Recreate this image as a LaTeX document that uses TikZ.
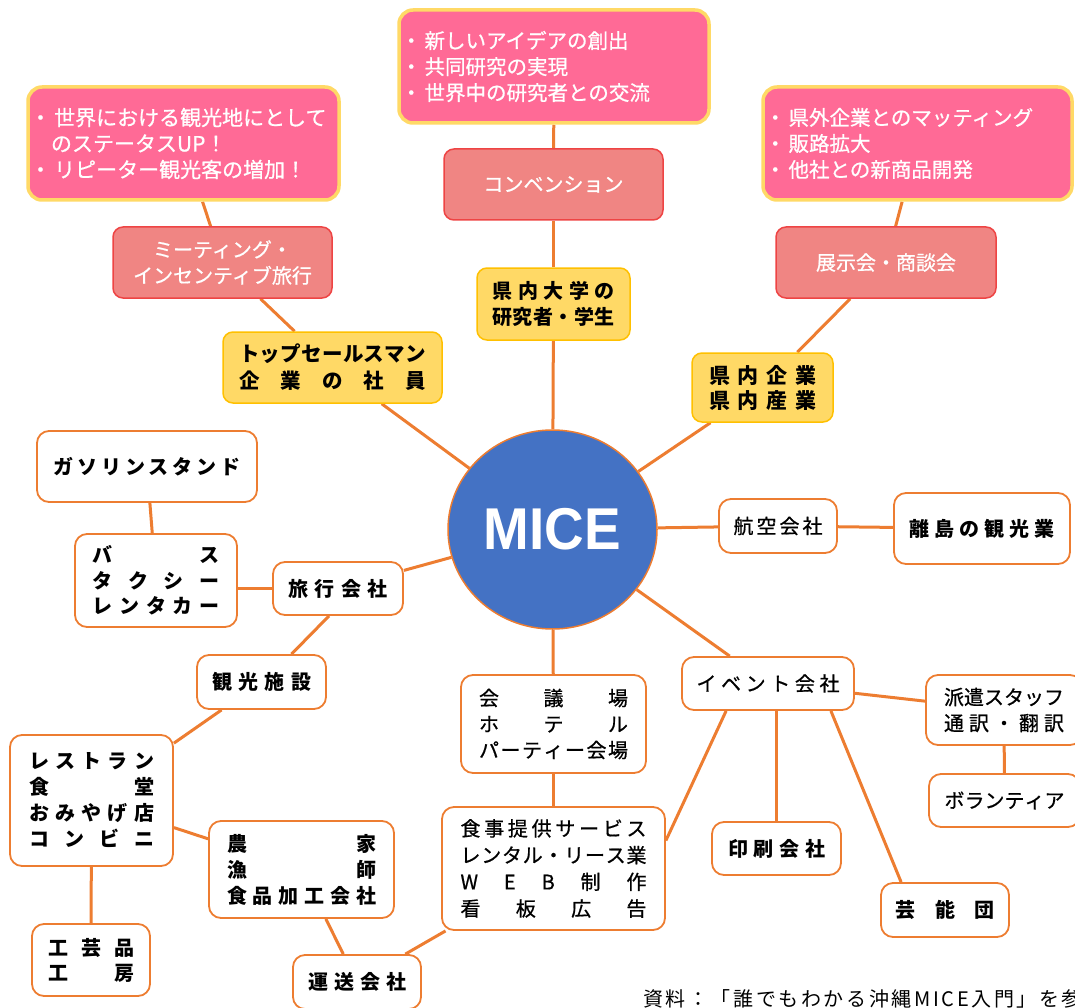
\documentclass[tikz,border=0pt]{standalone}
\usepackage{fontspec}
\usepackage{graphicx}
\setmainfont{Noto Sans CJK JP}
\newfontfamily\micefont{Liberation Sans}
\newfontfamily\medfont[FakeBold=0.7]{Noto Sans CJK JP}
\usetikzlibrary{calc,shapes.geometric,backgrounds}
\definecolor{pinkfill}{HTML}{FF6A96}
\definecolor{pinkedge}{HTML}{FFD966}
\definecolor{salmonfill}{HTML}{F08583}
\definecolor{salmonedge}{HTML}{EE4444}
\definecolor{yelfill}{HTML}{FFD966}
\definecolor{yeledge}{HTML}{FFC000}
\definecolor{orng}{HTML}{ED7D31}
\definecolor{miceblue}{HTML}{4472C4}
\makeatletter
\newcommand\jw[2]{\makebox[#1][s]{\@tfor\jwx:=#2\do{\jwx\hfil}\unskip}}
\makeatother
\newcommand\bul{\makebox[1.15em][l]{・}}
\tikzset{
  pinkbox/.style={draw=pinkedge, line width=3.5pt, fill=pinkfill, rounded corners=14pt,
    text=white, inner sep=0pt, align=left, font=\medfont\fontsize{20.5}{26}\selectfont},
  salmonbox/.style={draw=salmonedge, line width=1.5pt, fill=salmonfill, rounded corners=10pt,
    text=white, inner sep=0pt, align=center, font=\medfont\fontsize{20}{26}\selectfont},
  yelbox/.style={draw=yeledge, line width=1.5pt, fill=yelfill, rounded corners=10pt,
    inner sep=0pt, align=center, font=\fontsize{20}{26}\selectfont\bfseries},
  wbox/.style={draw=orng, line width=1.8pt, fill=white, rounded corners=12pt,
    inner sep=0pt, align=center, font=\medfont\fontsize{20}{26}\selectfont},
  wboxb/.style={wbox, font=\fontsize{20}{26}\selectfont\bfseries},
  link/.style={draw=orng, line width=3pt},
}
\begin{document}
\begin{tikzpicture}[x=1pt,y=-1pt]
\useasboundingbox (0,0) rectangle (1075,1008);
\clip (0,0) rectangle (1075,1008);

% top pink boxes
\node[pinkbox, minimum width=310, minimum height=113, text width=306] (pinkC) at (554,66.5)
  {\bul 新しいアイデアの創出\\\bul 共同研究の実現\\\bul 世界中の研究者との交流};
\node[pinkbox, minimum width=311, minimum height=113, text width=307,
  font=\medfont\fontsize{21}{26}\selectfont] (pinkL) at (183.5,143.5)
  {\bul 世界における観光地にとして\\\hspace*{1em}のステータスUP！\\\bul リピーター観光客の増加！};
\node[pinkbox, minimum width=309, minimum height=113, text width=305] (pinkR) at (917.5,143.5)
  {\bul 県外企業とのマッティング\\\bul 販路拡大\\\bul 他社との新商品開発};

% salmon boxes
\node[salmonbox, minimum width=219, minimum height=71] (conv) at (553.5,184.5) {コンベンション};
\node[salmonbox, minimum width=219, minimum height=71] (meet) at (222.5,262.5) {ミーティング・\\インセンティブ旅行};
\node[salmonbox, minimum width=220, minimum height=71] (tenji) at (886,262.5) {展示会・商談会};

% yellow boxes
\node[yelbox, minimum width=153, minimum height=72] (univ) at (553.5,304)
  {\jw{122pt}{県内大学の}\\\jw{122pt}{研究者・学生}};
\node[yelbox, minimum width=219, minimum height=71, font=\fontsize{20.5}{27}\selectfont\bfseries] (top) at (332.5,367.5)
  {\jw{187pt}{トップセールスマン}\\\jw{187pt}{企業の社員}};
\node[yelbox, minimum width=141, minimum height=69, font=\fontsize{21}{25}\selectfont\bfseries] (kennai) at (762.5,387.5)
  {\jw{107pt}{県内企業}\\\jw{107pt}{県内産業}};

% MICE
\node[ellipse, draw=orng, line width=1.5pt, fill=miceblue, minimum width=209, minimum height=199,
  inner sep=0pt, text=white] (mice) at (552.5,529.5)
  {\raisebox{-3pt}{\micefont\bfseries\fontsize{59}{59}\selectfont\scalebox{0.93}[1]{MICE}}};

% white boxes, left
\node[wboxb, minimum width=220, minimum height=71] (gas) at (147,466.5) {\jw{187pt}{ガソリンスタンド}};
\node[wboxb, minimum width=162, minimum height=93, font=\fontsize{20}{25.5}\selectfont\bfseries] (bus) at (156,580.5)
  {\jw{127pt}{バス}\\\jw{127pt}{タクシー}\\\jw{127pt}{レンタカー}};
\node[wboxb, minimum width=130, minimum height=53] (travel) at (338,588.5) {\jw{99pt}{旅行会社}};
\node[wboxb, minimum width=129, minimum height=54] (kanko) at (261.5,682) {\jw{99pt}{観光施設}};
\node[wboxb, minimum width=163, minimum height=131] (resto) at (91.5,800.5)
  {\jw{125pt}{レストラン}\\\jw{125pt}{食堂}\\\jw{125pt}{おみやげ店}\\\jw{125pt}{コンビニ}};
\node[wboxb, minimum width=185, minimum height=97] (farm) at (301.5,869.5)
  {\jw{149pt}{農家}\\\jw{149pt}{漁師}\\\jw{149pt}{食品加工会社}};
\node[wboxb, minimum width=118, minimum height=72, font=\fontsize{20}{25}\selectfont\bfseries] (craft) at (91,960)
  {\jw{86pt}{工芸品}\\\jw{86pt}{工房}};
\node[wboxb, minimum width=128, minimum height=54] (unso) at (357,982) {\jw{98pt}{運送会社}};

% white boxes, centre and right
\node[wbox, minimum width=185, minimum height=98] (kaigi) at (553.5,724)
  {\jw{149pt}{会議場}\\\jw{149pt}{ホテル}\\\jw{149pt}{パーティー会場}};
\node[wbox, minimum width=223, minimum height=123, font=\medfont\fontsize{20}{26.7}\selectfont] (food) at (553.5,868.5)
  {\jw{186pt}{食事提供サービス}\\\jw{186pt}{レンタル・リース業}\\\jw{186pt}{WEB制作}\\\jw{186pt}{看板広告}};
\node[wbox, minimum width=172, minimum height=53] (event) at (768,683.5) {\jw{143pt}{イベント会社}};
\node[wboxb, minimum width=129, minimum height=53] (print) at (776.5,848.5) {\jw{97pt}{印刷会社}};
\node[wboxb, minimum width=128, minimum height=54] (geino) at (945,910) {\jw{99pt}{芸能団}};
\node[wbox, minimum width=156, minimum height=70] (haken) at (1004,710)
  {\jw{120pt}{派遣スタッフ}\\\jw{120pt}{通訳・翻訳}};
\node[wbox, minimum width=151, minimum height=53] (volun) at (1004.5,800.5) {\jw{120pt}{ボランティア}};
\node[wbox, minimum width=118, minimum height=54] (air) at (778,526) {\jw{89pt}{航空会社}};
\node[wboxb, minimum width=176, minimum height=71] (ritou) at (982,528.5) {\jw{145pt}{離島の観光業}};

% caption
\node[anchor=base west, inner sep=0pt, font=\fontsize{20}{24}\selectfont\addfontfeature{LetterSpace=13}] (cap) at (643,1006)
  {資料：「誰でもわかる沖縄MICE入門」を参};

\begin{scope}[on background layer]
\draw[link] (mice) -- (univ);
\draw[link] (univ) -- (conv);
\draw[link] (conv) -- (pinkC);
\draw[link] (mice) -- (top);
\draw[link] (top) -- (meet);
\draw[link] (meet) -- (pinkL);
\draw[link] (mice) -- (kennai);
\draw[link] (kennai) -- (tenji);
\draw[link] (tenji) -- (pinkR);
\draw[link] (mice) -- (air);
\draw[link] (air) -- (ritou);
\draw[link] (mice) -- (travel);
\draw[link] (bus.east |- travel.west) -- (travel.west);
\draw[link] (bus) -- (gas);
\draw[link] ($(travel.south)+(-9,0)$) -- ($(kanko.north)+(30,0)$);
\draw[link] (kanko) -- (resto);
\draw[link] (resto) -- (farm);
\draw[link] (resto) -- (craft);
\draw[link] (farm) -- (unso);
\draw[link] (unso) -- (food);
\draw[link] (mice) -- (kaigi);
\draw[link] (kaigi) -- (food);
\draw[link] (mice) -- (event);
\draw[link] ($(event.south west)+(45,0)$) -- ($(food.east)+(0,-28)$);
\draw[link] (print.north |- event.south) -- (print.north);
\draw[link] ($(event.south east)+(-24,0)$) -- ($(geino.north west)+(21,0)$);
\draw[link] (event) -- (haken);
\draw[link] (haken) -- (volun);
\end{scope}
\end{tikzpicture}
\end{document}
